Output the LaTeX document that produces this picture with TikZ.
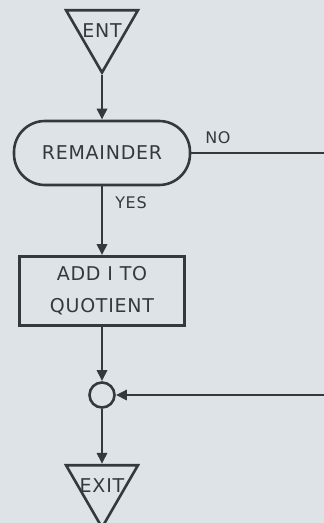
\documentclass[tikz,border=0pt]{standalone}
\usepackage{fontspec}
\setmainfont{DejaVu Sans}[LetterSpace=4]
\usetikzlibrary{arrows.meta,positioning,shapes.geometric}
\definecolor{paper}{RGB}{222,227,232}
\definecolor{ink}{RGB}{52,57,62}

\begin{document}
\begin{tikzpicture}[x=1pt,y=-1pt,
    every node/.style={font=\fontsize{19}{32}\selectfont, text=ink},
    line/.style={draw=ink, line width=2.6pt},
    flow/.style={line, -{Triangle[length=11pt,width=10pt]}},
    tri/.style={line, regular polygon, regular polygon sides=3,
      shape border rotate=180, minimum size=83pt, inner sep=0pt},
    terminal/.style={line, rectangle, rounded corners=31pt,
      minimum width=176pt, minimum height=64pt},
    process/.style={line, rectangle, minimum width=165pt,
      minimum height=69pt, align=center},
    joint/.style={line, circle, minimum size=25pt, inner sep=0pt},
    tag/.style={font=\fontsize{16}{18}\selectfont}]
  % paper and frame
  \fill[paper] (0,0) rectangle (324,523);
  \useasboundingbox (0,0) rectangle (324,523);
  % entry
  \node[tri, label={center:ENT}] (ent) at (102,31) {};
  % test
  \node[terminal] (rem) at (102,153) {REMAINDER};
  \coordinate (noout) at (324,153);
  \node[tag] (no) at (218,138) {NO};
  \node[tag] (yes) at (131,203) {YES};
  % action
  \node[process] (add) at (102,291) {ADD I TO\\QUOTIENT};
  % join
  \node[joint] (join) at (102,395) {};
  \coordinate (loopin) at (324,395);
  % exit
  \node[tri, label={center:EXIT}] (exit) at (102,486) {};
  % connectors
  \draw[flow] (ent.south) -- (rem.north);
  \draw[flow] (rem.south) -- (add.north);
  \draw[line] (rem.east) -- (noout);
  \draw[flow] (add.south) -- (join.north);
  \draw[flow] (loopin) -- (join.east);
  \draw[flow] (join.south) -- (exit.north);
\end{tikzpicture}
\end{document}
